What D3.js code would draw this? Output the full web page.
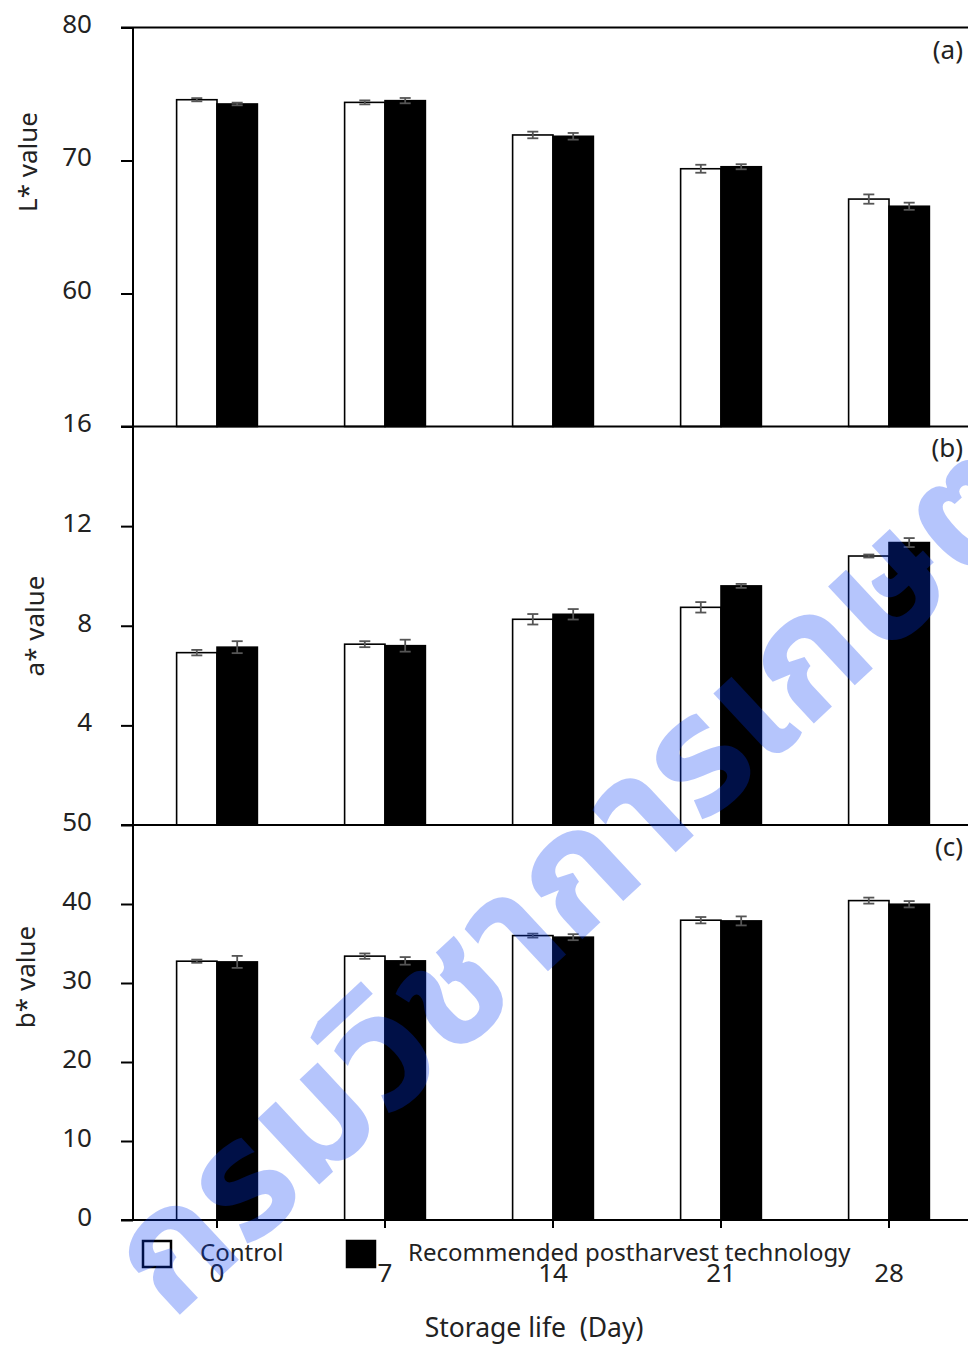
<!DOCTYPE html>
<html>
<head>
<meta charset="utf-8">
<script src="https://cdn.jsdelivr.net/npm/d3@7"></script>
<style>
  html, body { margin: 0; padding: 0; background: #fff; }
  svg { display: block; }
  text { font-family: "Noto Sans", "DejaVu Sans", sans-serif; fill: #222; }
</style>
</head>
<body>
<svg id="chart" width="968" height="1346"></svg>
<script>
// storage days
const days = ["0", "7", "14", "21", "28"];
const seriesNames = ["Control", "Recommended postharvest technology"];

// L* value
const lControl = [74.57, 74.37, 71.92, 69.38, 67.10];
const lControlErr = [0.12, 0.15, 0.25, 0.30, 0.35];
const lRecommended = [74.25, 74.50, 71.82, 69.53, 66.56];
const lRecommendedErr = [0.10, 0.20, 0.25, 0.19, 0.27];
const lTicks = [60, 70, 80];

// a* value
const aControl = [6.92, 7.26, 8.26, 8.74, 10.80];
const aControlErr = [0.11, 0.12, 0.21, 0.21, 0.06];
const aRecommended = [7.14, 7.20, 8.46, 9.60, 11.34];
const aRecommendedErr = [0.24, 0.24, 0.21, 0.08, 0.18];
const aTicks = [4, 8, 12, 16];

// b* value
const bControl = [32.76, 33.40, 36.00, 37.95, 40.43];
const bControlErr = [0.20, 0.34, 0.25, 0.40, 0.38];
const bRecommended = [32.67, 32.80, 35.80, 37.86, 39.97];
const bRecommendedErr = [0.76, 0.48, 0.38, 0.57, 0.40];
const bTicks = [0, 10, 20, 30, 40, 50];

const panels = [
  { tag: "(a)", label: "L* value", ctrl: lControl, ctrlErr: lControlErr, rec: lRecommended, recErr: lRecommendedErr,
    domain: [50, 80], range: [426.5, 27.5], ticks: lTicks, labelX: 28, labelY: 162, tagY: 50 },
  { tag: "(b)", label: "a* value", ctrl: aControl, ctrlErr: aControlErr, rec: aRecommended, recErr: aRecommendedErr,
    domain: [0, 16], range: [825, 426.5], ticks: aTicks, labelX: 35, labelY: 626, tagY: 448 },
  { tag: "(c)", label: "b* value", ctrl: bControl, ctrlErr: bControlErr, rec: bRecommended, recErr: bRecommendedErr,
    domain: [0, 50], range: [1220, 825], ticks: bTicks, labelX: 26, labelY: 977, tagY: 847 }
];

const svg = d3.select("#chart");
const axisX = 133, rightEdge = 972;

const x0 = d3.scaleBand().domain(days).range([axisX, axisX + 840]);
const x1 = d3.scaleBand().domain(["ctrl", "rec"]).range([0, x0.bandwidth()]).paddingOuter(1.08);
const fill = d3.scaleOrdinal().domain(["ctrl", "rec"]).range(["#fff", "#000"]);

panels.forEach(function (p) {
  const y = d3.scaleLinear().domain(p.domain).range(p.range);
  const g = svg.append("g");

  const rows = days.map(function (d, i) {
    return [
      { day: d, key: "ctrl", v: p.ctrl[i], e: p.ctrlErr[i] },
      { day: d, key: "rec", v: p.rec[i], e: p.recErr[i] }
    ];
  });

  const grp = g.selectAll("g.day")
    .data(rows)
    .enter().append("g")
    .attr("transform", function (d) { return "translate(" + x0(d[0].day) + ",0)"; });

  grp.selectAll("rect")
    .data(function (d) { return d; })
    .enter().append("rect")
    .attr("x", function (d) { return x1(d.key); })
    .attr("y", function (d) { return y(d.v); })
    .attr("width", x1.bandwidth())
    .attr("height", function (d) { return y(p.domain[0]) - y(d.v); })
    .attr("fill", function (d) { return fill(d.key); })
    .attr("stroke", "#000")
    .attr("stroke-width", 1.6);

  // error bars
  const eb = grp.selectAll("g.err")
    .data(function (d) { return d; })
    .enter().append("g")
    .attr("stroke", "#555")
    .attr("stroke-width", 1.8);
  const cx = function (d) { return x1(d.key) + x1.bandwidth() / 2; };
  eb.append("line")
    .attr("x1", cx).attr("x2", cx)
    .attr("y1", function (d) { return y(d.v - d.e); })
    .attr("y2", function (d) { return y(d.v + d.e); });
  [-1, 1].forEach(function (s) {
    eb.append("line")
      .attr("x1", function (d) { return cx(d) - 5.5; })
      .attr("x2", function (d) { return cx(d) + 5.5; })
      .attr("y1", function (d) { return y(d.v + s * d.e); })
      .attr("y2", function (d) { return y(d.v + s * d.e); });
  });

  // y axis
  const yAxis = d3.axisLeft(y).tickValues(p.ticks).tickSize(12).tickPadding(29).tickFormat(d3.format("d"));
  const ya = g.append("g").attr("transform", "translate(" + axisX + ",0)").call(yAxis);
  ya.select(".domain").remove();
  ya.selectAll(".tick line").attr("stroke", "#000").attr("stroke-width", 2);
  ya.selectAll(".tick text")
    .attr("font-size", 26)
    .attr("dy", "0.32em")
    .attr("y", -3)
    .style("font-family", "'Noto Sans', sans-serif")
    .attr("fill", "#222");

  // baseline of panel
  g.append("line")
    .attr("x1", axisX - 12).attr("x2", rightEdge)
    .attr("y1", y(p.domain[0])).attr("y2", y(p.domain[0]))
    .attr("stroke", "#000").attr("stroke-width", 2);

  g.append("text")
    .attr("transform", "translate(" + p.labelX + "," + p.labelY + ") rotate(-90)")
    .attr("text-anchor", "middle")
    .attr("dy", "0.35em")
    .attr("font-size", 26)
    .text(p.label);

  g.append("text")
    .attr("x", 963).attr("y", p.tagY)
    .attr("text-anchor", "end")
    .attr("dy", "0.35em")
    .attr("font-size", 26)
    .text(p.tag);
});

// top frame line
svg.append("line")
  .attr("x1", axisX - 12).attr("x2", rightEdge)
  .attr("y1", 27.5).attr("y2", 27.5)
  .attr("stroke", "#000").attr("stroke-width", 2);

// left axis
svg.append("line")
  .attr("x1", axisX).attr("x2", axisX)
  .attr("y1", 27.5).attr("y2", 1221)
  .attr("stroke", "#000").attr("stroke-width", 2);

// bottom x axis (days)
const xa = svg.append("g").attr("transform", "translate(0,1220)")
  .call(d3.axisBottom(x0).tickSize(8).tickPadding(36));
xa.select(".domain").remove();
xa.selectAll(".tick line").attr("stroke", "#000").attr("stroke-width", 2);
xa.selectAll(".tick text").attr("font-size", 26).attr("fill", "#222")
  .style("font-family", "'Noto Sans', sans-serif");

svg.append("text")
  .attr("x", 534).attr("y", 1328)
  .attr("text-anchor", "middle")
  .attr("dy", "0.35em")
  .attr("font-size", 26.5)
  .attr("xml:space", "preserve")
  .text("Storage life  (Day)");

// legend
const legendX = [143, 347];
const legendTextX = [200, 408];
const lg = svg.append("g").selectAll("g")
  .data(["ctrl", "rec"])
  .enter().append("g");
lg.append("rect")
  .attr("x", function (d, i) { return legendX[i]; })
  .attr("y", 1241)
  .attr("width", 28).attr("height", 26)
  .attr("fill", function (d) { return fill(d); })
  .attr("stroke", "#000").attr("stroke-width", 2.5);
lg.append("text")
  .attr("x", function (d, i) { return legendTextX[i]; })
  .attr("y", 1253)
  .attr("dy", "0.35em")
  .attr("font-size", 24)
  .text(function (d, i) { return seriesNames[i]; });

// watermark
svg.append("text")
  .attr("transform", "translate(172,1322) rotate(-43)")
  .attr("font-size", 165)
  .attr("font-weight", "bold")
  .style("font-family", "'Noto Sans Thai', 'Noto Sans', sans-serif")
  .style("fill", "rgb(0,55,245)")
  .style("fill-opacity", 0.29)
  .text("กรมวิชาการเกษตร");
</script>
</body>
</html>
